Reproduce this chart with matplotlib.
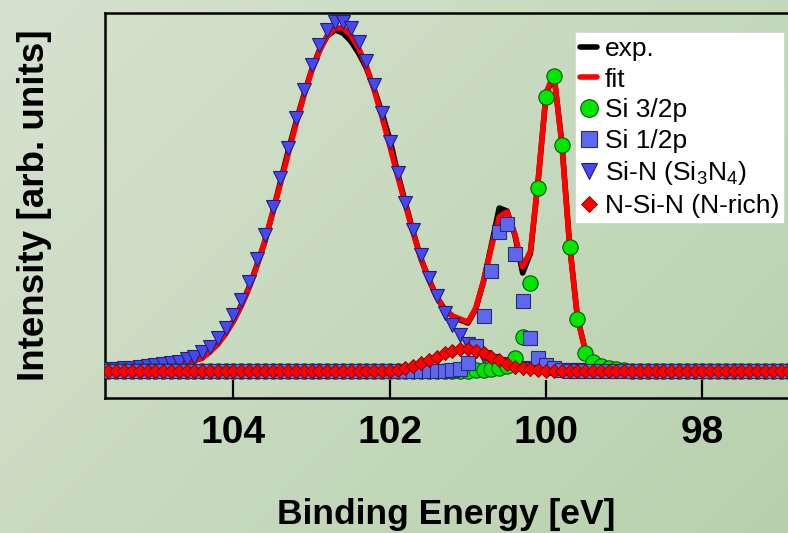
import numpy as np
import matplotlib
matplotlib.use('Agg')
import matplotlib.pyplot as plt

plt.rcParams['font.family'] = ['Liberation Sans', 'DejaVu Sans']
plt.rcParams['mathtext.default'] = 'regular'

# Binding energy grid [eV] (0.1 eV step, as in the measurement)
energy = [105.6, 105.5, 105.4, 105.3, 105.2, 105.1, 105.0, 104.9, 104.8, 104.7,
          104.6, 104.5, 104.4, 104.3, 104.2, 104.1, 104.0, 103.9, 103.8, 103.7,
          103.6, 103.5, 103.4, 103.3, 103.2, 103.1, 103.0, 102.9, 102.8, 102.7,
          102.6, 102.5, 102.4, 102.3, 102.2, 102.1, 102.0, 101.9, 101.8, 101.7,
          101.6, 101.5, 101.4, 101.3, 101.2, 101.1, 101.0, 100.9, 100.8, 100.7,
          100.6, 100.5, 100.4, 100.3, 100.2, 100.1, 100.0, 99.9, 99.8, 99.7,
          99.6, 99.5, 99.4, 99.3, 99.2, 99.1, 99.0, 98.9, 98.8, 98.7,
          98.6, 98.5, 98.4, 98.3, 98.2, 98.1, 98.0, 97.9, 97.8, 97.7,
          97.6, 97.5, 97.4, 97.3, 97.2, 97.1, 97.0, 96.9]

# intensities (arb. units)
exp_data = [1, 2, 1, 3, 2, 4, 3, -4, 6, 8,
            8, 11, 13, 20, 27, 38, 50, 66, 84, 106,
            129, 158, 189, 220, 249, 276, 301, 321, 335, 341,
            338, 330, 318, 303, 282, 258, 232, 198, 168, 139,
            112, 92, 74, 62, 55, 51, 48, 62, 90, 126,
            163, 160, 136, 98, 118, 192, 277, 296, 229, 127,
            54, 21, 8, 5, 3, 1, 2, 0, 1, -1,
            0, 1, 0, -1, 0, 1, 0, -5, 0, 1,
            0, -1, 0, 1, 0, 0, -1, 0]

fit = [1, 1, 2, 2, 3, 3, 4, 5, 6, 7,
       8, 10, 13, 19, 27, 37, 50, 65, 83, 105,
       130, 158, 187, 217, 247, 275, 300, 320, 335, 343,
       343, 336, 323, 305, 281, 254, 225, 195, 166, 138,
       112, 91, 74, 61, 55, 52, 49, 63, 90, 124,
       154, 159, 137, 104, 120, 192, 278, 297, 228, 126,
       54, 20, 9, 5, 3, 2, 1, 1, 0, 0,
       0, 0, 0, 0, 0, 0, 0, 0, 0, 0,
       0, 0, 0, 0, 0, 0, 0, 0]

si_32 = [0, 0, 0, 0, 0, 0, 0, 0, 0, 0,
         0, 0, 0, 0, 0, 0, 0, 0, 0, 0,
         0, 0, 0, 0, 0, 0, 0, 0, 0, 0,
         0, 0, 0, 0, 0, 0, 0, 0, 0, 0,
         0, 0, 0, 0, 0, 0, 0, 1, 1, 2,
         3, 5, 13, 34, 88, 183, 274, 295, 226, 124,
         52, 18, 9, 5, 3, 2, 1, 0, 0, 0,
         0, 0, 0, 0, 0, 0, 0, 0, 0, 0,
         0, 0, 0, 0, 0, 0, 0, 0]

si_12 = [0, 0, 0, 0, 0, 0, 0, 0, 0, 0,
         0, 0, 0, 0, 0, 0, 0, 0, 0, 0,
         0, 0, 0, 0, 0, 0, 0, 0, 0, 0,
         0, 0, 0, 0, 0, 0, 0, 0, 0, 0,
         0, 0, 0, 0, 1, 2, 8, 25, 55, 100,
         139, 147, 117, 70, 33, 13, 6, 3, 1, 0,
         0, 0, 0, 0, 0, 0, 0, 0, 0, 0,
         0, 0, 0, 0, 0, 0, 0, 0, 0, 0,
         0, 0, 0, 0, 0, 0, 0, 0]

si_n = [2, 2, 3, 3, 4, 5, 6, 7, 8, 9,
        12, 14, 19, 24, 33, 43, 56, 71, 89, 112,
        136, 164, 193, 223, 253, 281, 306, 326, 341, 349,
        349, 343, 329, 310, 286, 258, 229, 198, 168, 141,
        116, 93, 75, 58, 46, 36, 27, 20, 14, 10,
        7, 5, 4, 3, 2, 2, 1, 1, 1, 1,
        1, 1, 0, 0, 0, 0, 0, 0, 0, 0,
        0, 0, 0, 0, 0, 0, 0, 0, 0, 0,
        0, 0, 0, 0, 0, 0, 0, 0]

n_si_n = [0, 0, 0, 0, 0, 0, 0, 0, 0, 0,
          0, 0, 0, 0, 0, 0, 0, 0, 0, 0,
          0, 0, 0, 0, 0, 0, 0, 0, 0, 0,
          0, 0, 0, 0, 0, 0, 0, 1, 3, 5,
          8, 11, 14, 18, 20, 22, 22, 20, 18, 14,
          11, 7, 4, 3, 2, 1, 0, 0, 0, 0,
          0, 0, 0, 0, 0, 0, 0, 0, 0, 0,
          0, 0, 0, 0, 0, 0, 0, 0, 0, 0,
          0, 0, 0, 0, 0, 0, 0, 0]

W, H = 788, 533
fig = plt.figure(figsize=(W / 100, H / 100), dpi=100)

# greenish diagonal gradient background
bg = fig.add_axes([0, 0, 1, 1], zorder=-10)
yy, xx = np.mgrid[0:1:200j, 0:1:200j]
t = (xx * 0.6 + yy * 0.4)
c0 = np.array([214, 226, 208]) / 255
c1 = np.array([184, 209, 172]) / 255
img = c0[None, None, :] * (1 - t[..., None]) + c1[None, None, :] * t[..., None]
bg.imshow(img, aspect='auto', extent=[0, 1, 0, 1], origin='upper')
bg.axis('off')

ax = fig.add_axes([105 / W, 1 - 398 / H, 1 - 105 / W, (398 - 13) / H])
ax.patch.set_alpha(0)

l_exp, = ax.plot(energy, exp_data, color='black', lw=4, zorder=2,
                 solid_capstyle='round', label='exp.')
l_fit, = ax.plot(energy, fit, color='red', lw=4, zorder=3,
                 solid_capstyle='round', label='fit')
l_sin, = ax.plot(energy, si_n, ls='none', marker='v', ms=10,
                 mfc='#4848f2', mec='#20207a', mew=0.8, zorder=4,
                 label='Si-N (Si$_3$N$_4$)')
l_s32, = ax.plot(energy, si_32, ls='none', marker='o', ms=11,
                 mfc='#00e600', mec='#005a00', mew=0.8, zorder=5,
                 label='Si 3/2p')
l_s12, = ax.plot(energy, si_12, ls='none', marker='s', ms=10.5,
                 mfc='#5c68f0', mec='#2a2a78', mew=0.8, zorder=6,
                 label='Si 1/2p')
l_nsn, = ax.plot(energy, n_si_n, ls='none', marker='D', ms=6.8,
                 mfc='#ff0000', mec='#7a0000', mew=0.6, zorder=7,
                 label='N-Si-N (N-rich)')

ax.set_xlim(105.644, 96.905)
ax.set_ylim(-27, 358)
ax.set_xticks([104, 102, 100, 98])
ax.set_yticks([])
ax.tick_params(axis='x', direction='in', length=13, width=1.6, pad=12,
               labelsize=28)
for lab in ax.get_xticklabels():
    lab.set_fontweight('bold')
for s in ['left', 'top', 'bottom']:
    ax.spines[s].set_linewidth(1.8)
ax.spines['right'].set_visible(False)

handles = [l_exp, l_fit, l_s32, l_s12, l_sin, l_nsn]
leg = ax.legend(handles, [h.get_label() for h in handles],
                loc='upper left', bbox_to_anchor=(576 / W, 1 - 33 / H),
                bbox_transform=fig.transFigure, prop={'size': 19},
                frameon=True, fancybox=False, facecolor='white',
                edgecolor='white', framealpha=1, handlelength=0.65,
                handletextpad=0.3, borderpad=0.15, labelspacing=0.25,
                borderaxespad=0, numpoints=1, markerscale=1.15)
leg.set_zorder(20)

fig.text(446.5 / W, 1 - 524 / H, 'Binding Energy [eV]', ha='center',
         va='baseline', fontsize=25.5, fontweight='bold')
fig.text(35 / W, 1 - 205 / H, 'Intensity [arb. units]', rotation=90,
         ha='center', va='center', fontsize=26.5, fontweight='bold')

fig.savefig('out.png', dpi=100)
